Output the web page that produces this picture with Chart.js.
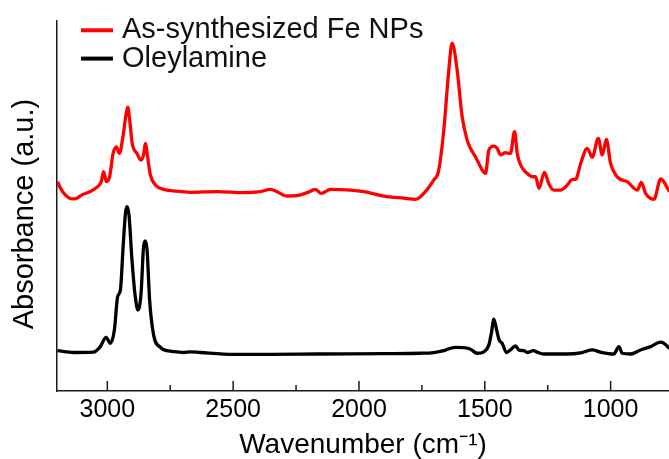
<!DOCTYPE html>
<html><head><meta charset="utf-8">
<script src="https://cdn.jsdelivr.net/npm/chart.js@4.4.0/dist/chart.umd.min.js"></script>
<style>html,body{margin:0;padding:0;background:#fff;overflow:hidden}</style>
</head><body>
<canvas id="c" width="669" height="459" style="display:block;width:669px;height:459px"></canvas>
<script>
const seriesLabels = ['As-synthesized Fe NPs', 'Oleylamine'];
const seriesColors = ['#ff0000', '#000000'];

const feWavenumber = [3198,3187,3167,3140,3121,3101,3068,3041,3024,3015,3004,2991,2977,2964,2952,2938,2927,2919,2911,2901,2882,2866,2856,2849,2840,2829,2809,2776,2736,2670,2564,2458,2392,2352,2286,2246,2206,2173,2150,2113,2034,1981,1901,1822,1775,1756,1703,1683,1663,1643,1630,1610,1590,1570,1557,1537,1510,1497,1484,1464,1451,1437,1418,1398,1382,1371,1358,1331,1311,1298,1285,1263,1246,1226,1199,1172,1152,1139,1119,1093,1073,1049,1033,1017,1000,973,934,894,878,861,828,801,766];
const feAbsorbance = [56.6,54.9,53.0,51.9,52.1,53.0,53.9,55.1,56.6,59.3,56.6,57.9,64.2,66.0,64.2,68.7,74.1,76.7,73.2,66.9,64.2,62.4,63.8,66.9,63.3,58.4,55.7,54.5,54.1,53.7,53.9,53.6,53.9,54.5,52.7,52.8,53.6,54.5,53.4,54.5,54.3,53.9,52.7,52.1,51.8,52.5,57.0,59.7,70.5,86.8,94.0,86.8,74.1,67.8,65.6,63.3,59.7,58.8,65.1,66.2,65.6,63.8,64.4,64.2,70.1,64.2,61.1,58.8,57.9,57.9,54.8,59.1,56.1,54.3,54.3,55.7,57.2,57.2,61.5,65.6,63.2,68.3,63.8,68.0,61.5,57.8,56.6,54.3,56.4,53.4,51.8,57.3,53.9];

const olaWavenumber = [3198,3134,3055,3028,3005,2988,2972,2959,2948,2938,2928,2922,2914,2902,2889,2878,2866,2856,2849,2842,2832,2816,2789,2763,2723,2697,2670,2630,2498,2352,2166,1901,1756,1703,1663,1643,1616,1583,1557,1530,1504,1484,1474,1464,1453,1443,1431,1414,1398,1378,1365,1345,1329,1307,1292,1265,1172,1113,1073,1040,987,967,954,921,881,841,801,788,766];
const olaAbsorbance = [10.9,10.4,10.5,12.0,14.5,12.9,16.5,25.5,27.3,38.1,48.0,49.8,47.6,35.4,25.5,21.9,26.4,39.0,40.6,38.1,24.6,15.1,11.8,10.9,10.6,10.4,10.6,10.4,9.9,9.9,10.0,10.1,10.2,10.4,10.9,11.4,11.8,11.7,11.3,10.2,10.6,12.4,15.6,19.4,16.5,13.8,12.9,10.4,11.1,12.2,11.1,10.9,10.4,10.9,10.5,10.0,10.0,10.4,11.1,10.5,10.0,12.0,10.2,10.0,11.1,12.0,13.2,12.9,11.5];

const majorTicks = [3000, 2500, 2000, 1500, 1000];
const minorTicks = [2750, 2250, 1750, 1250];
const xAxisTitle = 'Wavenumber (cm\u207B\u00B9)';
const yAxisTitle = 'Absorbance (a.u.)';

const FONT = '"Liberation Sans", Arial, sans-serif';

const toPoints = (xs, ys) => xs.map((x, i) => ({x: x, y: ys[i]}));

const decor = {
  id: 'decor',
  beforeDraw(chart) {
    const ctx = chart.ctx;
    ctx.save();
    ctx.fillStyle = '#ffffff';
    ctx.fillRect(0, 0, chart.width, chart.height);
    ctx.restore();
  },
  afterDraw(chart) {
    const {ctx, chartArea: a, scales: {x}} = chart;
    ctx.save();
    ctx.strokeStyle = '#1a1a1a';
    ctx.lineWidth = 1.5;
    const tick = (v, len) => {
      const px = x.getPixelForValue(v);
      ctx.beginPath();
      ctx.moveTo(px, a.bottom);
      ctx.lineTo(px, a.bottom - len);
      ctx.stroke();
    };
    majorTicks.forEach(v => tick(v, 10));
    minorTicks.forEach(v => tick(v, 6));
    // legend
    const baselines = [38.3, 66.6];
    chart.data.datasets.forEach((ds, i) => {
      const yb = baselines[i];
      ctx.strokeStyle = ds.borderColor;
      ctx.lineWidth = 4;
      ctx.beginPath();
      ctx.moveTo(81, yb - 8);
      ctx.lineTo(113, yb - 8);
      ctx.stroke();
      ctx.fillStyle = '#111111';
      ctx.font = '29px ' + FONT;
      ctx.textBaseline = 'alphabetic';
      ctx.textAlign = 'left';
      ctx.fillText(ds.label, 122, yb);
    });
    ctx.restore();
  }
};

new Chart(document.getElementById('c'), {
  type: 'line',
  data: {
    datasets: [
      {label: seriesLabels[0], data: toPoints(feWavenumber, feAbsorbance), borderColor: seriesColors[0], borderWidth: 3.3, pointRadius: 0, cubicInterpolationMode: 'monotone', fill: false},
      {label: seriesLabels[1], data: toPoints(olaWavenumber, olaAbsorbance), borderColor: seriesColors[1], borderWidth: 3.3, pointRadius: 0, cubicInterpolationMode: 'monotone', fill: false}
    ]
  },
  options: {
    responsive: false,
    animation: false,
    devicePixelRatio: 1,
    layout: {padding: {top: 21, right: 0, left: 0, bottom: 0}},
    plugins: {legend: {display: false}, tooltip: {enabled: false}},
    scales: {
      x: {
        type: 'linear',
        reverse: true,
        min: 768,
        max: 3200,
        afterBuildTicks: s => { s.ticks = majorTicks.map(v => ({value: v})); },
        afterFit: s => { s.height = 68; },
        grid: {display: false, drawTicks: false},
        border: {display: true, color: '#1a1a1a', width: 1.5},
        ticks: {color: '#000', font: {family: FONT, size: 25, lineHeight: 1}, padding: 7, maxRotation: 0, autoSkip: false, callback: v => String(v)},
        title: {display: true, text: xAxisTitle, color: '#000', font: {family: FONT, size: 28, lineHeight: 1}, padding: {top: 0, bottom: 0}}
      },
      y: {
        min: 0,
        max: 100,
        afterFit: s => { s.width = 57; },
        grid: {display: false, drawTicks: false},
        border: {display: true, color: '#1a1a1a', width: 1.5},
        ticks: {display: false},
        title: {display: true, text: yAxisTitle + '  ', color: '#000', font: {family: FONT, size: 29, lineHeight: 1}, padding: {top: 10.5, bottom: 0}}
      }
    }
  },
  plugins: [decor]
});
</script>
</body></html>
